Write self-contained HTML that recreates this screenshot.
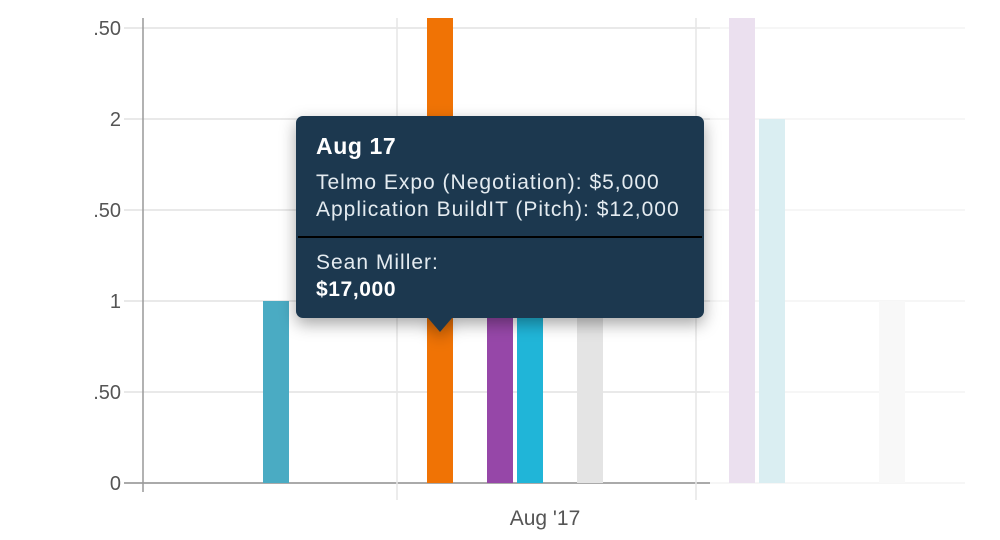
<!DOCTYPE html>
<html><head><meta charset="utf-8"><style>
html,body{margin:0;padding:0;background:#fff;width:1000px;height:540px;overflow:hidden}
svg text{font-family:"Liberation Sans",sans-serif}
</style></head><body>
<svg id="chart" width="1000" height="540" xmlns="http://www.w3.org/2000/svg">
<defs><filter id="sh" x="-20%" y="-20%" width="140%" height="160%"><feDropShadow dx="0" dy="6" stdDeviation="8" flood-color="#000" flood-opacity="0.35"/></filter></defs>
<g id="grid"></g><g id="bars"></g><g id="axes"></g>
<g filter="url(#sh)">
<rect x="296" y="116" width="408" height="202" rx="7" fill="#1b394f"/>
<polygon points="428,318 452,318 440,332" fill="#1b394f"/>
</g>
<line x1="298" y1="237" x2="702" y2="237" stroke="#000" stroke-width="2"/>
<text x="316" y="154" font-size="23" font-weight="bold" letter-spacing="0.6" fill="#fff">Aug 17</text>
<text x="316" y="189" font-size="21" letter-spacing="1" fill="#e4ebf0">Telmo Expo (Negotiation): $5,000</text>
<text x="316" y="216" font-size="21" letter-spacing="1" fill="#e4ebf0">Application BuildIT (Pitch): $12,000</text>
<text x="316" y="269" font-size="21" letter-spacing="1" fill="#e4ebf0">Sean Miller:</text>
<text x="316" y="296" font-size="21" font-weight="bold" letter-spacing="0.6" fill="#fff">$17,000</text>
</svg>
<script>
const barValues=[1,3,1.5,1.5,1,3,2,1];
const barColors=["#4aabc3","#f07305","#9647a8","#20b5d8","#e4e4e4","#ebe0ef","#daeef2","#f8f8f8"];
const barSlots=[0,1,2,3,4,5,6,7];
const yTicks=[0,0.5,1,1.5,2,2.5];
const yTickLabels=["0",".50","1",".50","2",".50"];
const ns="http://www.w3.org/2000/svg";
const y0=483,pxPerUnit=182,topY=18;
const y=v=>y0-v*pxPerUnit;
const barX=[263,427,487,517,577,729,759,879];
function mk(t,a,p){const e=document.createElementNS(ns,t);for(const k in a)e.setAttribute(k,a[k]);p.appendChild(e);return e;}
const grid=document.getElementById('grid'),bars=document.getElementById('bars'),axes=document.getElementById('axes');
yTicks.forEach((t,i)=>{
 const g1=mk('line',{x1:124,x2:710,y1:y(t),y2:y(t),stroke:t===0?'#aaa':'#e2e2e2','stroke-width':t===0?2:1.5},grid);
 
 
 const g2=mk('line',{x1:710,x2:965,y1:y(t),y2:y(t),stroke:'#f3f3f3','stroke-width':1.5},grid);
 
 
 const tx=mk('text',{x:121,y:y(t)+7,'text-anchor':'end','font-size':20,fill:'#555'},axes);
 tx.textContent=yTickLabels[i];
 
 
});
[397,696].forEach(x=>{const l=mk('line',{x1:x,x2:x,y1:18,y2:500,stroke:'#e6e6e6','stroke-width':1.5},grid);
 
 });
barValues.forEach((v,i)=>{
 const yt=Math.max(topY,y(v));
 const r=mk('rect',{x:barX[barSlots[i]],y:yt,width:26,height:y0-yt,fill:barColors[i]},bars);
 
 
});
const ax=mk('line',{x1:143,x2:143,y1:18,y2:492,stroke:'#999','stroke-width':1.5},axes);


const xl=mk('text',{x:545,y:525,'text-anchor':'middle','font-size':21,fill:'#555'},axes);
xl.textContent="Aug '17";


</script>
</body></html>
